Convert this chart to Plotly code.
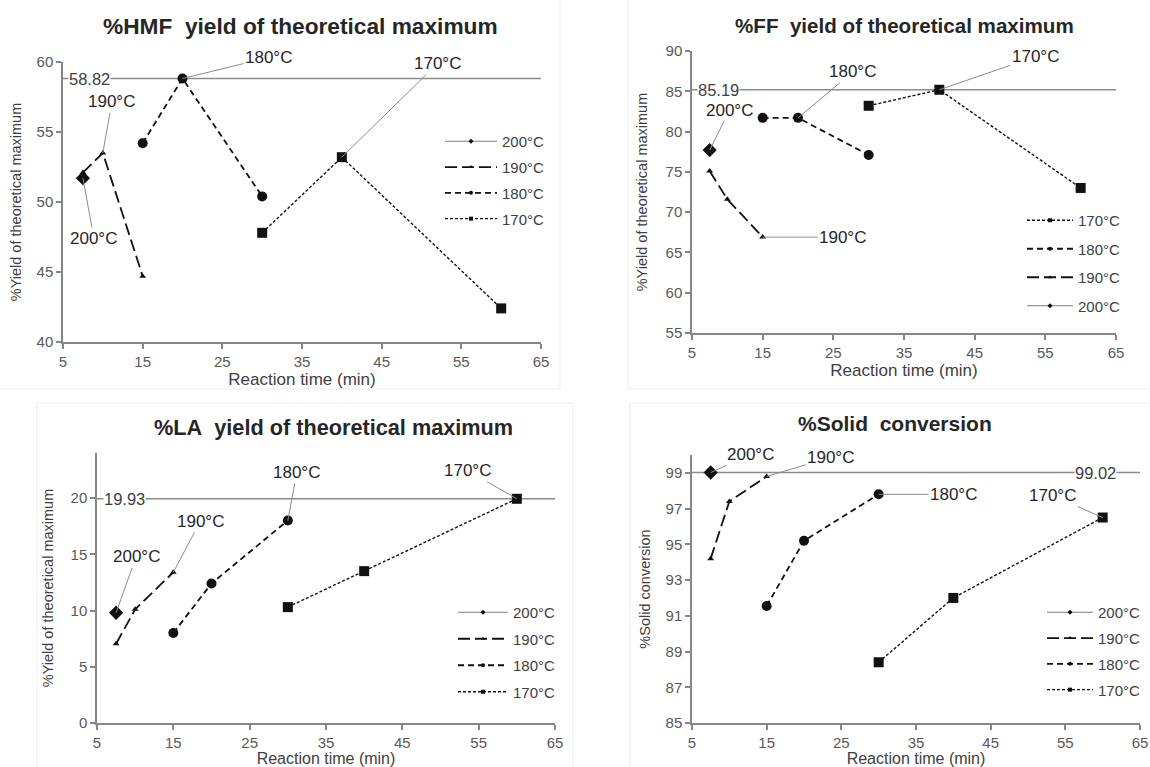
import plotly.graph_objects as go

# ---------------- data ----------------
temps = ["200°C", "190°C", "180°C", "170°C"]

time_200 = [7.5]
time_190 = [7.5, 10, 15]
time_180 = [15, 20, 30]
time_170 = [30, 40, 60]

hmf_200 = [51.7]
hmf_190 = [52.1, 53.5, 44.7]
hmf_180 = [54.2, 58.82, 50.4]
hmf_170 = [47.8, 53.2, 42.4]
hmf_max = 58.82

ff_200 = [77.7]
ff_190 = [75.1, 71.6, 66.9]
ff_180 = [81.7, 81.7, 77.1]
ff_170 = [83.2, 85.19, 73.0]
ff_max = 85.19

la_200 = [9.8]
la_190 = [7.05, 10.1, 13.4]
la_180 = [8.0, 12.4, 18.0]
la_170 = [10.3, 13.5, 19.93]
la_max = 19.93

solid_200 = [99.02]
solid_190 = [94.2, 97.4, 98.8]
solid_180 = [91.55, 95.2, 97.8]
solid_170 = [88.4, 92.0, 96.5]
solid_max = 99.02

x_ticks = [5, 15, 25, 35, 45, 55, 65]
hmf_ticks = [40, 45, 50, 55, 60]
ff_ticks = [55, 60, 65, 70, 75, 80, 85, 90]
la_ticks = [0, 5, 10, 15, 20]
solid_ticks = [85, 87, 89, 91, 93, 95, 97, 99]

times = {"200°C": time_200, "190°C": time_190, "180°C": time_180, "170°C": time_170}

# ---------------- styles ----------------
FONT = "Liberation Sans, Arial, sans-serif"
INK = "#111111"
AX = "#868686"
TXT = "#404040"
style = {
    "200°C": dict(dash="solid", width=1.2, symbol="diamond", size=11, color="#7f7f7f"),
    "190°C": dict(dash="12px,5px", width=1.8, symbol="triangle-up", size=6, color=INK),
    "180°C": dict(dash="6px,4px", width=1.8, symbol="circle", size=10, color=INK),
    "170°C": dict(dash="3px,2px", width=1.4, symbol="square", size=10, color=INK),
}

W, H = 1150, 767


def px_x(p):
    return p / W


def px_y(p):
    return 1 - p / H


panels = [
    dict(sfx="", series={"200°C": hmf_200, "190°C": hmf_190, "180°C": hmf_180, "170°C": hmf_170},
         title="%HMF\u00a0 yield of theoretical maximum", title_px=(300, 26), title_size=22.7,
         ytitle="%Yield of theoretical maximum", yrange=[40, 60], yticks=hmf_ticks, ystand=11,
         xstand=3, xfont=17,
         maxv=hmf_max, max_x=5, max_anchor="left", max_shift=5,
         dom_x=(63, 541), dom_y=(62, 342),
         labels={"200°C": (0, 11, 60), "190°C": (1, 9, -51), "180°C": (1, 86, -21), "170°C": (1, 96, -94)},
         legend_order=temps, legend_px=(440, 125), legend_gap=3.3, itemw=52,
         frame=(-2, -2, 560, 389)),
    dict(sfx="2", series={"200°C": ff_200, "190°C": ff_190, "180°C": ff_180, "170°C": ff_170},
         title="%FF\u00a0 yield of theoretical maximum", title_px=(904, 25), title_size=20.6,
         ytitle="%Yield of theoretical maximum", yrange=[55, 90], yticks=ff_ticks, ystand=14,
         xstand=3, xfont=17,
         maxv=ff_max, max_x=5, max_anchor="left", max_shift=5,
         dom_x=(692, 1116), dom_y=(51, 333),
         labels={"200°C": (0, 20, -40), "190°C": (2, 80, 0), "180°C": (1, 55, -46), "170°C": (1, 96, -33)},
         legend_order=temps[::-1], legend_px=(1022, 204), legend_gap=6, itemw=46,
         frame=(628, -2, 1152, 389)),
    dict(sfx="3", series={"200°C": la_200, "190°C": la_190, "180°C": la_180, "170°C": la_170},
         title="%LA\u00a0 yield of theoretical maximum", title_px=(333, 427), title_size=21.7,
         ytitle="%Yield of theoretical maximum", yrange=[0, 24], yticks=la_ticks, ystand=13,
         xstand=5, xfont=16,
         maxv=la_max, max_x=5, max_anchor="left", max_shift=6,
         dom_x=(97, 555), dom_y=(453, 723),
         labels={"200°C": (0, 20, -56), "190°C": (2, 27, -51), "180°C": (2, 9, -48), "170°C": (2, -49, -28)},
         legend_order=temps, legend_px=(453, 596), legend_gap=4, itemw=50,
         frame=(37, 403, 573, 770)),
    dict(sfx="4", series={"200°C": solid_200, "190°C": solid_190, "180°C": solid_180, "170°C": solid_170},
         title="%Solid\u00a0 conversion", title_px=(895, 423), title_size=21,
         ytitle="%Solid conversion", yrange=[85, 100], yticks=solid_ticks, ystand=11,
         xstand=5, xfont=16,
         maxv=solid_max, max_x=59.1, max_anchor="center", max_shift=0,
         dom_x=(692, 1140), dom_y=(455, 723),
         labels={"200°C": (0, 40, -18), "190°C": (2, 64, -19), "180°C": (2, 75, 0), "170°C": (2, -50, -22)},
         legend_order=temps, legend_px=(1042, 596), legend_gap=3.3, itemw=46,
         frame=(630, 403, 1152, 770)),
]

fig = go.Figure()
annotations = []
shapes = []
layout_axes = {}

for i, p in enumerate(panels):
    sfx = p["sfx"]
    xa, ya = "x" + sfx, "y" + sfx
    leg = "legend" + sfx
    # faint chart-area frame
    fx0, fy0, fx1, fy1 = p["frame"]
    shapes.append(dict(type="rect", xref="paper", yref="paper",
                       x0=px_x(fx0), x1=px_x(fx1), y0=px_y(fy1), y1=px_y(fy0),
                       line=dict(color="#efefef", width=1), fillcolor="rgba(0,0,0,0)", layer="below"))
    # data traces
    for t in temps:
        s = style[t]
        fig.add_trace(go.Scatter(
            x=times[t], y=p["series"][t], mode="lines+markers", name=t,
            line=dict(color=s["color"] if t == "200°C" else INK, width=s["width"], dash=s["dash"]),
            marker=dict(symbol=s["symbol"], size=s["size"], color=INK),
            xaxis=xa, yaxis=ya, showlegend=False, hoverinfo="x+y+name"))
    # legend entries (small markers like the reference legend)
    for t in p["legend_order"]:
        s = style[t]
        fig.add_trace(go.Scatter(
            x=[None], y=[None], mode="lines+markers", name=t,
            line=dict(color=s["color"], width=s["width"], dash=s["dash"]),
            marker=dict(symbol=s["symbol"], size=4, color=INK),
            xaxis=xa, yaxis=ya, legend=leg, legendgroup=f"{i}-{t}", showlegend=True))
    # axes
    layout_axes["xaxis" + sfx] = dict(
        domain=[px_x(p["dom_x"][0]), px_x(p["dom_x"][1])], anchor=ya, automargin=False,
        range=[5, 65], tickvals=x_ticks, showgrid=False, zeroline=False,
        showline=True, linecolor=AX, linewidth=1.5, ticks="outside", ticklen=5,
        tickcolor=AX, tickwidth=1.5, tickfont=dict(family=FONT, size=15, color="#595959"),
        title=dict(text="Reaction time (min)", font=dict(family=FONT, size=p["xfont"], color=TXT),
                   standoff=p["xstand"]))
    layout_axes["yaxis" + sfx] = dict(
        domain=[px_y(p["dom_y"][1]), px_y(p["dom_y"][0])], anchor=xa, automargin=False,
        range=p["yrange"], tickvals=p["yticks"], showgrid=False, zeroline=False,
        showline=True, linecolor=AX, linewidth=1.5, ticks="outside", ticklen=5,
        tickcolor=AX, tickwidth=1.5, tickfont=dict(family=FONT, size=15, color="#595959"),
        title=dict(text=p["ytitle"], font=dict(family=FONT, size=14.5, color=TXT), standoff=p["ystand"]))
    # reference line for the maximum
    shapes.append(dict(type="line", xref=xa, yref=ya, x0=5, x1=65, y0=p["maxv"], y1=p["maxv"],
                       line=dict(color="#8c8c8c", width=1.5), layer="below"))
    annotations.append(dict(xref=xa, yref=ya, x=p["max_x"], y=p["maxv"], text=f"{p['maxv']:.2f}",
                            showarrow=False, xanchor=p["max_anchor"], yanchor="middle", xshift=p["max_shift"],
                            bgcolor="white", borderpad=0,
                            font=dict(family=FONT, size=16.5, color="#404040")))
    # series labels with leader lines
    for t, (idx, ax, ay) in p["labels"].items():
        annotations.append(dict(xref=xa, yref=ya, x=times[t][idx], y=p["series"][t][idx], text=t,
                                showarrow=True, arrowhead=0, arrowwidth=1, arrowcolor="#8c8c8c",
                                ax=ax, ay=ay, font=dict(family=FONT, size=17, color="#262626")))
    # panel title
    annotations.append(dict(xref="paper", yref="paper", x=px_x(p["title_px"][0]), y=px_y(p["title_px"][1]),
                            xanchor="center", yanchor="middle",
                            text=f"<b>{p['title']}</b>", showarrow=False,
                            font=dict(family=FONT, size=p["title_size"], color="#262626")))
    # legend
    layout_axes[leg] = dict(x=px_x(p["legend_px"][0]), y=px_y(p["legend_px"][1]), xanchor="left", yanchor="top",
                            bgcolor="rgba(0,0,0,0)", font=dict(family=FONT, size=15, color=TXT),
                            itemwidth=p["itemw"], tracegroupgap=p["legend_gap"], traceorder="grouped")

fig.update_layout(
    width=W, height=H, margin=dict(l=0, r=0, t=0, b=0, autoexpand=False),
    paper_bgcolor="white", plot_bgcolor="white",
    shapes=shapes, annotations=annotations, font=dict(family=FONT),
    **layout_axes)

# place the figure at the page's top-left corner (no default body margin, no scrollbars)
fig.write_html("out.html", config={"displayModeBar": False},
               post_script="document.body.style.margin='0';document.body.style.overflow='hidden';")
